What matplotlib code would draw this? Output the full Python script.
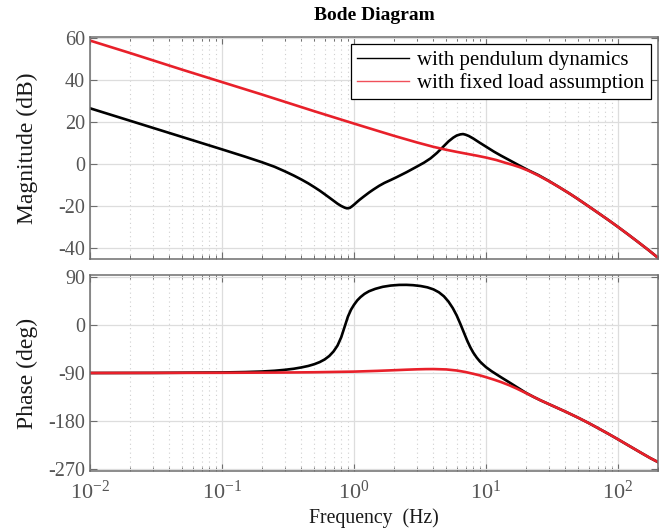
import matplotlib
matplotlib.use("Agg")
import matplotlib.pyplot as plt
from matplotlib.lines import Line2D
from matplotlib.ticker import LogLocator, FixedLocator, NullFormatter

# ---------------- data ----------------
# magnitude (dB), fixed load assumption
f_mag_fixed = [0.01, 0.02, 0.05, 0.1, 0.2, 0.5, 1.0, 1.5, 2.0, 3.0, 4.0, 5.0, 6.0, 7.0,
               8.5, 10.0, 12.0, 14.0, 16.0, 18.0, 21.0, 25.0, 30.0, 36.0, 43.0, 50.0,
               60.0, 70.0, 85.0, 100.0, 120.0, 140.0, 170.0, 200.0]
mag_fixed = [58.9, 53.0, 45.0, 39.1, 33.2, 25.2, 19.3, 15.9, 13.5, 10.3, 8.2, 6.8, 5.8,
             5.0, 4.0, 3.1, 1.9, 0.6, -0.45, -1.5, -3.2, -5.5, -8.2, -11.1, -14.1,
             -16.8, -20.2, -23.1, -26.8, -30.0, -33.7, -36.9, -41.0, -44.6]

# magnitude (dB), with pendulum dynamics
f_mag_pend = [0.01, 0.02, 0.05, 0.1, 0.15, 0.2, 0.25, 0.3, 0.35, 0.4, 0.45, 0.5, 0.55,
              0.6, 0.65, 0.7, 0.75, 0.8, 0.85, 0.88, 0.9, 0.93, 0.96, 1.0, 1.05, 1.1,
              1.18, 1.3, 1.4, 1.55, 1.7, 1.9, 2.1, 2.5, 3.0, 3.4, 3.8, 4.25, 4.75,
              5.2, 5.65, 6.0, 6.4, 6.7, 7.0, 7.4, 8.0, 9.0, 10.0, 11.5, 13.0, 15.0,
              18.0, 21.0, 25.0, 30.0, 36.0, 43.0, 50.0, 60.0, 70.0, 85.0, 100.0,
              120.0, 140.0, 170.0, 200.0]
mag_pend = [26.6, 20.7, 12.9, 7.0, 3.5, 0.9, -1.3, -3.5, -5.5, -7.4, -9.2, -11.0,
            -12.7, -14.4, -16.0, -17.5, -18.9, -20.0, -20.8, -21.1, -21.1, -20.9,
            -20.3, -19.4, -18.2, -17.1, -15.6, -13.6, -12.2, -10.4, -9.0, -7.6, -6.3,
            -3.9, -1.2, 0.7, 2.7, 5.3, 8.3, 10.8, 12.6, 13.6, 14.15, 14.3, 14.0, 13.4,
            12.2, 10.1, 8.3, 5.9, 4.0, 1.9, -0.8, -3.0, -5.3, -8.1, -11.1, -14.1,
            -16.8, -20.2, -23.1, -26.8, -30.0, -33.7, -36.9, -41.0, -44.6]

# phase (deg), fixed load assumption
f_ph_fixed = [0.01, 0.1, 0.3, 0.5, 1.0, 1.5, 2.0, 2.5, 3.0, 3.5, 4.0, 5.0, 6.0, 7.0,
              8.0, 9.0, 10.0, 11.5, 13.0, 15.0, 17.0, 20.0, 23.0, 26.0, 30.0, 35.0,
              40.0, 50.0, 60.0, 70.0, 85.0, 100.0, 120.0, 150.0, 175.0, 200.0]
ph_fixed = [-90.0, -89.6, -89.1, -88.6, -87.4, -86.0, -84.8, -83.8, -83.1, -82.7,
            -82.6, -83.3, -85.3, -88.2, -91.5, -94.5, -97.8, -102.5, -107.0, -113.0,
            -119.0, -127.5, -135.0, -141.5, -148.5, -156.0, -162.5, -174.0, -184.0,
            -193.0, -204.5, -214.5, -226.0, -240.0, -249.5, -257.0]

# phase (deg), with pendulum dynamics
f_ph_pend = [0.01, 0.03, 0.1, 0.15, 0.2, 0.25, 0.3, 0.35, 0.4, 0.45, 0.5, 0.55, 0.6,
             0.65, 0.7, 0.75, 0.8, 0.85, 0.9, 0.95, 1.0, 1.06, 1.12, 1.2, 1.3, 1.45,
             1.65, 1.9, 2.2, 2.5, 2.8, 3.2, 3.6, 4.0, 4.4, 4.8, 5.2, 5.6, 6.0, 6.4,
             6.8, 7.2, 7.6, 8.0, 8.5, 9.0, 9.5, 10.0, 11.0, 12.0, 13.0, 15.0, 17.0,
             20.0, 23.0, 26.0, 30.0, 35.0, 40.0, 50.0, 60.0, 70.0, 85.0, 100.0, 120.0,
             150.0, 175.0, 200.0]
ph_pend = [-90.0, -89.8, -89.0, -88.2, -87.2, -85.8, -84.0, -82.0, -79.5, -76.8,
           -73.5, -69.5, -64.5, -58.0, -49.5, -38.5, -23.0, -3.0, 16.0, 29.0, 38.0,
           46.5, 52.5, 58.5, 63.5, 68.0, 71.8, 74.2, 75.4, 75.5, 74.9, 73.3, 70.8,
           67.0, 61.5, 54.0, 44.0, 32.0, 18.0, 2.0, -14.0, -29.0, -41.5, -51.5,
           -61.0, -68.5, -74.0, -79.0, -86.5, -92.5, -98.0, -107.5, -116.0, -127.0,
           -135.0, -141.5, -148.5, -156.0, -162.5, -174.0, -184.0, -193.0, -204.5,
           -214.5, -226.0, -240.0, -249.5, -257.0]

labels = ["with pendulum dynamics", "with fixed load assumption"]
mag_ticks = [-40, -20, 0, 20, 40, 60]
ph_ticks = [-270, -180, -90, 0, 90]

# ---------------- style ----------------
plt.rcParams['font.family'] = ['Liberation Serif', 'DejaVu Serif']
plt.rcParams['mathtext.fontset'] = 'stix'

RED = '#e8202a'
BLACK = '#000000'
SPINE = '#6e6e6e'
TICKC = '#555555'

fig = plt.figure(figsize=(6.67, 5.31), dpi=100)
W, H = 667, 531
ax1 = fig.add_axes([90 / W, 1 - 259 / H, 568 / W, 222 / H])
ax2 = fig.add_axes([90 / W, 1 - 471 / H, 568 / W, 196 / H])

lw = 1.9
ax1.plot(f_mag_pend, mag_pend, color=BLACK, lw=lw, solid_joinstyle='round')
ax1.plot(f_mag_fixed, mag_fixed, color=RED, lw=lw, solid_joinstyle='round')
ax2.plot(f_ph_pend, ph_pend, color=BLACK, lw=lw, solid_joinstyle='round')
ax2.plot(f_ph_fixed, ph_fixed, color=RED, lw=lw, solid_joinstyle='round')

for ax in (ax1, ax2):
    ax.set_xscale('log')
    ax.set_xlim(0.01, 201)
    ax.xaxis.set_major_locator(LogLocator(base=10, numticks=10))
    ax.xaxis.set_minor_locator(LogLocator(base=10, subs=range(2, 10), numticks=20))
    ax.xaxis.set_minor_formatter(NullFormatter())
    ax.grid(True, which='major', color='#dddddd', lw=0.9, ls='-')
    ax.grid(True, which='minor', axis='x', color='#cfcfcf', lw=0.8, ls=(0, (1, 3)))
    ax.set_axisbelow(True)
    ax.tick_params(which='both', direction='in', top=True, right=True,
                   colors=SPINE, labelcolor=TICKC)
    ax.tick_params(axis='y', labelsize=14.5)
    ax.tick_params(axis='x', labelsize=16)
    ax.tick_params(which='major', length=5, width=0.8)
    ax.tick_params(which='minor', length=3, width=0.7)
    for s in ax.spines.values():
        s.set_color(SPINE)
        s.set_linewidth(1.1)

ax1.set_ylim(-45.3, 60.6)
ax1.yaxis.set_major_locator(FixedLocator(mag_ticks))
ax1.set_yticklabels([str(t) for t in mag_ticks])
ax1.tick_params(axis='x', labelbottom=False)

ax2.set_ylim(-274, 94)
ax2.yaxis.set_major_locator(FixedLocator(ph_ticks))
ax2.set_yticklabels([str(t) for t in ph_ticks])
ax2.tick_params(axis='x', pad=7)

ax1.set_ylabel('Magnitude (dB)', fontsize=17, color='#1a1a1a')
ax2.set_ylabel('Phase (deg)', fontsize=17, color='#1a1a1a')
ax1.yaxis.set_label_coords(-0.092, 0.5)
ax2.yaxis.set_label_coords(-0.092, 0.5)
fig.text(374 / W, 1 - 518 / H, 'Frequency  (Hz)', ha='center', va='center',
         fontsize=14.2, color='#1a1a1a')
fig.text(374 / W, 1 - 16 / H, 'Bode Diagram', ha='center', va='center',
         fontsize=14, fontweight='bold')

handles = [Line2D([], [], color=BLACK, lw=1.0), Line2D([], [], color='#f0505a', lw=1.0)]
leg = ax1.legend(handles, labels, loc='upper right', fontsize=15, frameon=True,
                 fancybox=False, edgecolor='black', framealpha=1.0,
                 handlelength=2.5, handletextpad=0.4, borderpad=0.3,
                 labelspacing=0.15, borderaxespad=0.35)
leg.get_frame().set_linewidth(0.9)

fig.savefig('out.png', dpi=100)
